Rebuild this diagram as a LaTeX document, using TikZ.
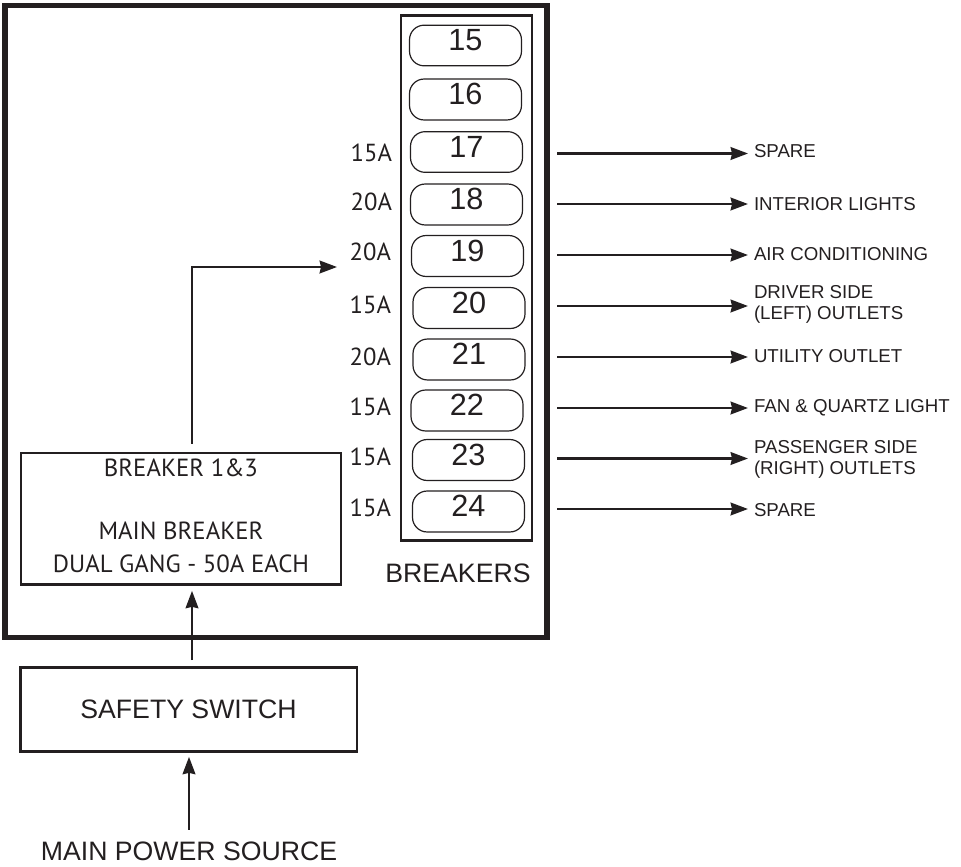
\documentclass[tikz,border=0pt]{standalone}
\usepackage{fontspec}
\usetikzlibrary{arrows.meta}
\setmainfont{Liberation Sans}
\newfontfamily\ampfont{PT Sans}
\definecolor{ink}{HTML}{231F20}

\begin{document}
\begin{tikzpicture}[x=0.75pt, y=-0.75pt, ink, outer sep=0pt,
    panel/.style = {draw, line width=4pt, minimum width=406.5pt, minimum height=474pt},
    rack/.style = {draw, line width=1.9pt, minimum width=98pt, minimum height=394pt},
    slot/.style = {draw, line width=0.9pt, rounded corners=11pt, minimum width=84pt, minimum height=30pt, font=\fontsize{23}{23}\selectfont},
    box/.style = {draw, line width=2pt, align=center},
    amp/.style = {inner sep=0pt, font=\ampfont\fontsize{18.5}{18.5}\selectfont},
    load/.style = {inner sep=0pt, align=left, font=\fontsize{14}{15.7}\selectfont},
    big/.style = {inner sep=0pt, font=\fontsize{20}{20}\selectfont},
    flow/.style = {-{Stealth[length=13pt, width=9.5pt, inset=1pt]}, line width=1.9pt}]
                \useasboundingbox (0,0) rectangle (961,867);
                \node[panel] (frame) at (276,321.5) {};
                \node[rack] (rack) at (466.5,278) {};
                \node[slot] (b15) at (465.5,45.5) {\raisebox{8pt}{15}};
                \node[slot] (b16) at (465.5,99.5) {\raisebox{8pt}{16}};
                \node[slot] (b17) at (466.5,152) {\raisebox{8pt}{17}};
                \node[slot] (b18) at (466.5,204.5) {\raisebox{8pt}{18}};
                \node[slot] (b19) at (467.5,256) {\raisebox{8pt}{19}};
                \node[slot] (b20) at (469,308) {\raisebox{8pt}{20}};
                \node[slot] (b21) at (469,359.5) {\raisebox{8pt}{21}};
                \node[slot] (b22) at (467,410.5) {\raisebox{8pt}{22}};
                \node[slot] (b23) at (468.5,460) {\raisebox{8pt}{23}};
                \node[slot] (b24) at (468.5,511.5) {\raisebox{8pt}{24}};
                \node[amp, anchor=east] (a17) at (392,153) {15A};
                \node[amp, anchor=east] (a18) at (392,202) {20A};
                \node[amp, anchor=east] (a19) at (391,252) {20A};
                \node[amp, anchor=east] (a20) at (391,305) {15A};
                \node[amp, anchor=east] (a21) at (391,357) {20A};
                \node[amp, anchor=east] (a22) at (391,407) {15A};
                \node[amp, anchor=east] (a23) at (391,457) {15A};
                \node[amp, anchor=east] (a24) at (391,508) {15A};
                \node[big] (rackname) at (458,573) {BREAKERS};
                \node[box, inner sep=0pt, minimum width=240pt, minimum height=98.5pt, font=\ampfont\fontsize{18.6}{24}\selectfont] (main) at (181,518.5) {BREAKER 1\&3\\ \\MAIN BREAKER\\DUAL GANG - 50A EACH\\[-19pt]};
                \node[box, minimum width=252.5pt, minimum height=63pt, font=\fontsize{20}{20}\selectfont] (switch) at (188.5,709.5) {SAFETY SWITCH};
                \node[big] (source) at (189,851) {MAIN POWER SOURCE};
                \node[load, anchor=west] (l17) at (754,151) {SPARE};
                \node[load, anchor=west] (l18) at (754,204) {INTERIOR LIGHTS};
                \node[load, anchor=west] (l19) at (754,254) {AIR CONDITIONING};
                \node[load, anchor=west] (l20) at (754,304.5) {DRIVER SIDE\\(LEFT) OUTLETS};
                \node[load, anchor=west] (l21) at (754,356) {UTILITY OUTLET};
                \node[load, anchor=west] (l22) at (754,407.5) {FAN \& QUARTZ LIGHT};
                \node[load, anchor=west] (l23) at (754,459) {PASSENGER SIDE\\(RIGHT) OUTLETS};
                \node[load, anchor=west] (l24) at (754,510) {SPARE};
                \coordinate (s17) at (557,153.5);
                \coordinate (s18) at (557,204);
                \coordinate (s19) at (557,255);
                \coordinate (s20) at (557,306);
                \coordinate (s21) at (557,357);
                \coordinate (s22) at (557,408);
                \coordinate (s23) at (557,458.5);
                \coordinate (s24) at (557,509);
                \coordinate (feed) at (192,660);
                \coordinate (bend) at (192,267);
                \coordinate (tip) at (337,267);
                \draw[flow, shorten >=4.5pt] (s17) -- (s17 -| l17.west);
                \draw[flow, shorten >=4.5pt] (s18) -- (s18 -| l18.west);
                \draw[flow, shorten >=4.5pt] (s19) -- (s19 -| l19.west);
                \draw[flow, shorten >=4.5pt] (s20) -- (s20 -| l20.west);
                \draw[flow, shorten >=4.5pt] (s21) -- (s21 -| l21.west);
                \draw[flow, shorten >=4.5pt] (s22) -- (s22 -| l22.west);
                \draw[flow, shorten >=4.5pt] (s23) -- (s23 -| l23.west);
                \draw[flow, shorten >=4.5pt] (s24) -- (s24 -| l24.west);
                \draw[flow, shorten <=7pt] (bend |- main.north) -- (bend) -- (tip);
                \draw[flow, shorten >=5pt] (feed) -- (feed |- main.south);
                \draw[flow, shorten <=9pt, shorten >=4pt] (source.north) -- (source.north |- switch.south);
            \end{tikzpicture}
\end{document}
